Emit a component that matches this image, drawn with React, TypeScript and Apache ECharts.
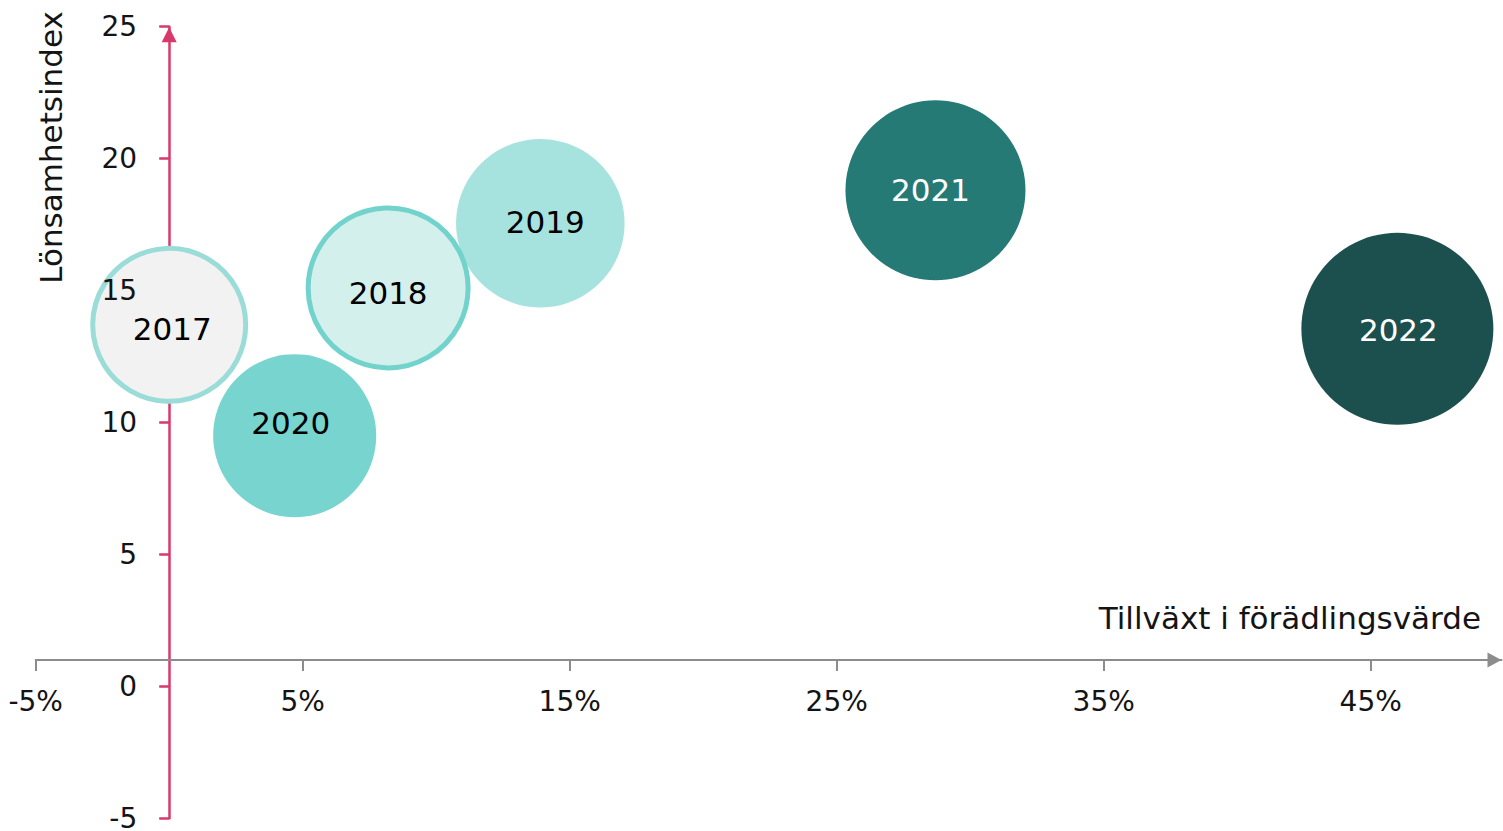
import React, { useEffect, useRef } from 'react';
import * as echarts from 'echarts';

// ---------- data ----------
const years = ['2017', '2018', '2019', '2020', '2021', '2022'];
const growthPct = [0, 8.2, 13.9, 4.7, 28.7, 46.0]; // Tillväxt i förädlingsvärde (%)
const profitIndex = [13.7, 15.1, 17.55, 9.5, 18.8, 13.55]; // Lönsamhetsindex
const bubbleSize = [63.5, 69.4, 77.0, 72.1, 87.9, 100]; // relative bubble size (area)
const xTickValues = [-5, 5, 15, 25, 35, 45];
const xAxisTitle = 'Tillväxt i förädlingsvärde';
const yAxisTitle = 'Lönsamhetsindex';
const X_MIN = -5;
const X_MAX = 49.9;
const Y_MIN = -5;
const Y_MAX = 25;
const Y_STEP = 5;
const xAxisCrossesAtY = 1; // horizontal axis crosses the vertical one at this index value
const yAxisCrossesAtX = 0; // vertical axis crosses the horizontal one at 0 %

// ---------- layout & styles ----------
const W = 1503;
const H = 831;
const GRID = { left: 35.7, right: 1.5, top: 26.7, bottom: 12.7 };
const FONT = 'DejaVu Sans';
const PINK = '#d9386c';
const GREY = '#8c8c8c';
const TEXT = '#141414';
const MAX_DIAMETER = 192;
const fills: Record<string, string> = {
  '2017': '#f2f2f2',
  '2018': '#d3f0ed',
  '2019': '#a6e2de',
  '2020': '#77d4ce',
  '2021': '#267a76',
  '2022': '#1b504e',
};
const borders: Record<string, string> = {
  '2017': '#9adcd7',
  '2018': '#72d3cc',
};
const labelColors: Record<string, string> = {
  '2021': '#ffffff',
  '2022': '#ffffff',
};
const labelNudge: Record<string, [number, number]> = {
  '2017': [3, 4],
  '2018': [0, 5],
  '2019': [5, -1],
  '2020': [-4, -13],
  '2021': [-5, 0],
  '2022': [1, 1],
};

export default function App() {
  const ref = useRef<HTMLDivElement>(null);

  useEffect(() => {
    if (!ref.current) return;
    const chart = echarts.init(ref.current, undefined, { renderer: 'svg' });

    const plotW = W - GRID.left - GRID.right;
    const plotH = H - GRID.top - GRID.bottom;
    // offsets that move the axes to their crossing points (derived from the scales)
    const yAxisLeftOffset = -((yAxisCrossesAtX - X_MIN) / (X_MAX - X_MIN)) * plotW;
    const yAxisRightOffset = -((X_MAX - yAxisCrossesAtX) / (X_MAX - X_MIN)) * plotW;
    const xAxisOffset = -((xAxisCrossesAtY - Y_MIN) / (Y_MAX - Y_MIN)) * plotH;

    // draw later years first so earlier bubbles lie on top
    const order = years.map((_, i) => i).reverse();

    const option: any = {
      animation: false,
      textStyle: { fontFamily: FONT },
      grid: { ...GRID, containLabel: false, outerBoundsMode: 'none' },
      xAxis: {
        type: 'value',
        position: 'bottom',
        offset: xAxisOffset,
        min: X_MIN,
        max: X_MAX,
        splitLine: { show: false },
        axisLine: {
          show: true,
          onZero: false,
          symbol: ['none', 'triangle'],
          symbolSize: [15, 14],
          symbolOffset: [0, -7],
          lineStyle: { color: GREY, width: 2 },
        },
        axisTick: {
          show: true,
          customValues: xTickValues,
          length: 11,
          lineStyle: { color: GREY, width: 2 },
        },
        axisLabel: {
          customValues: xTickValues,
          formatter: (v: number) => `${v}%`,
          margin: 28,
          fontSize: 28,
          color: TEXT,
          fontFamily: FONT,
        },
      },
      yAxis: [
        {
          // pink axis line + ticks, drawn beneath the bubbles
          type: 'value',
          position: 'left',
          offset: yAxisLeftOffset,
          min: Y_MIN,
          max: Y_MAX,
          interval: Y_STEP,
          z: 0,
          splitLine: { show: false },
          axisLine: {
            show: true,
            onZero: false,
            symbol: ['none', 'triangle'],
            symbolSize: [15, 15],
            symbolOffset: [0, -8],
            lineStyle: { color: PINK, width: 2.5 },
          },
          axisTick: { show: true, length: 10, lineStyle: { color: PINK, width: 2.5 } },
          axisLabel: { show: false },
        },
        {
          // tick labels, drawn above the bubbles
          type: 'value',
          position: 'right',
          offset: yAxisRightOffset,
          min: Y_MIN,
          max: Y_MAX,
          interval: Y_STEP,
          z: 5,
          splitLine: { show: false },
          axisLine: { show: false, onZero: false },
          axisTick: { show: false },
          axisLabel: {
            inside: true,
            margin: 32,
            fontSize: 28,
            color: TEXT,
            fontFamily: FONT,
            showMinLabel: true,
            showMaxLabel: true,
          },
        },
      ],
      graphic: [
        {
          type: 'text',
          x: 51,
          y: 147.5,
          rotation: Math.PI / 2,
          style: {
            text: yAxisTitle,
            fontSize: 31,
            fontFamily: FONT,
            fill: TEXT,
            align: 'center',
            verticalAlign: 'middle',
            textAlign: 'center',
            textVerticalAlign: 'middle',
          },
        },
        {
          type: 'text',
          x: 1481,
          y: 618,
          style: {
            text: xAxisTitle,
            fontSize: 31,
            fontFamily: FONT,
            fill: TEXT,
            align: 'right',
            verticalAlign: 'middle',
            textAlign: 'right',
            textVerticalAlign: 'middle',
          },
        },
      ],
      series: [
        {
          type: 'scatter',
          xAxisIndex: 0,
          yAxisIndex: 0,
          z: 2,
          symbol: 'circle',
          symbolSize: (v: number[]) => MAX_DIAMETER * Math.sqrt(v[2] / 100),
          emphasis: { disabled: true },
          label: {
            show: true,
            position: 'inside',
            formatter: '{b}',
            fontSize: 31,
            fontFamily: FONT,
          },
          data: order.map((i) => {
            const y = years[i];
            const hasBorder = !!borders[y];
            return {
              name: y,
              value: [growthPct[i], profitIndex[i], bubbleSize[i]],
              itemStyle: {
                color: fills[y],
                opacity: 1,
                borderColor: hasBorder ? borders[y] : 'transparent',
                borderWidth: hasBorder ? 5 : 0,
              },
              label: {
                color: labelColors[y] || '#000000',
                offset: labelNudge[y],
              },
            };
          }),
        },
      ],
    };

    chart.setOption(option);
    return () => chart.dispose();
  }, []);

  return (
    <div
      ref={ref}
      style={{ position: 'fixed', left: 0, top: 0, width: W, height: H, background: '#ffffff' }}
    />
  );
}
